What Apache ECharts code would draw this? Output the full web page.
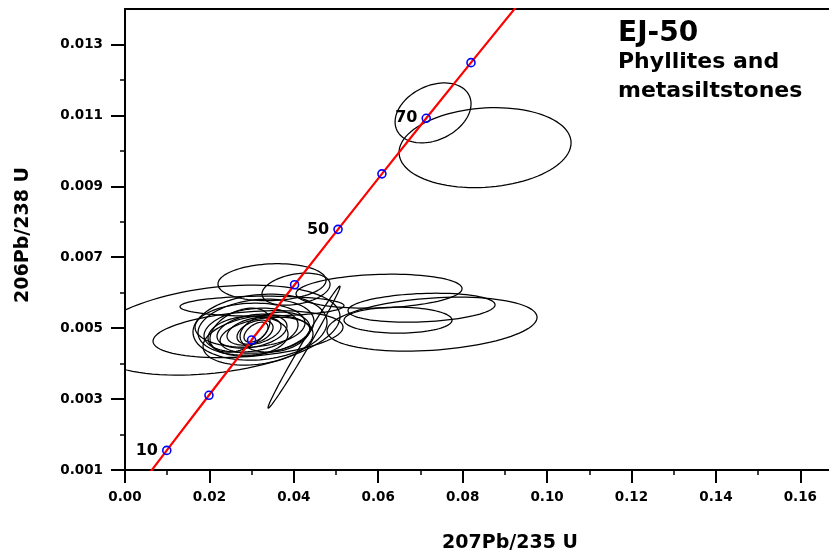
<!DOCTYPE html>
<html>
<head>
<meta charset="utf-8">
<title>EJ-50 concordia</title>
<script src="https://cdn.jsdelivr.net/npm/echarts@6/dist/echarts.min.js"></script>
<style>
  html, body { margin: 0; padding: 0; background: #fff; }
  #chart { width: 829px; height: 555px; }
</style>
</head>
<body>
<div id="chart"></div>
<script>
// Concordia reference ages (Ma) and their isotope ratios
const concordiaAge = [6, 10, 20, 30, 40, 50, 60, 70, 80, 90];
const concordiaX = [0.0059266, 0.0098972, 0.0198923, 0.0299863, 0.0401802, 0.0504751, 0.0608718, 0.0713714, 0.0819747, 0.0926834];
const concordiaY = [0.00093118, 0.00155245, 0.0031073, 0.0046646, 0.0062243, 0.0077864, 0.0093509, 0.0109179, 0.0124873, 0.0140592];
const markerAges = [10, 20, 30, 40, 50, 60, 70, 80];
const labelledAges = [10, 50, 70];

// Analyses: 207Pb/235U, 206Pb/238U, their uncertainties and error correlation
const ellX   = [0.02133, 0.02915, 0.03246, 0.03483, 0.04052, 0.04242, 0.06019, 0.07026, 0.06469, 0.07275, 0.07299, 0.08531,
                0.03104, 0.03081, 0.03057, 0.03009, 0.02986, 0.03104, 0.03199, 0.02915, 0.03318, 0.02725, 0.03555, 0.03152, 0.02962];
const ellY   = [0.004944, 0.004831, 0.00562, 0.006296, 0.0061, 0.004465, 0.006042, 0.005577, 0.005225, 0.005113, 0.01107, 0.01009,
                0.004887, 0.004887, 0.004915, 0.004915, 0.004944, 0.005028, 0.005028, 0.004775, 0.0048, 0.004944, 0.004887, 0.004662, 0.005085];
const ellSX  = [0.02962, 0.02251, 0.01943, 0.0128, 0.00806, 0.00853, 0.01967, 0.01742, 0.0128, 0.02488, 0.009, 0.02038,
                0.00284, 0.00427, 0.0064, 0.00829, 0.01114, 0.01374, 0.01588, 0.00948, 0.01066, 0.00711, 0.00829, 0.01303, 0.01303];
const ellSY  = [0.001268, 0.000662, 0.000282, 0.000521, 0.000451, 0.001718, 0.000479, 0.000408, 0.000366, 0.000761, 0.000845, 0.001127,
                0.000282, 0.000338, 0.000394, 0.000479, 0.00062, 0.000789, 0.00093, 0.000563, 0.000507, 0.00062, 0.000563, 0.000704, 0.00062];
const ellRho = [0.3, 0.3, 0.05, 0.1, 0.3, 0.993, 0.15, 0.2, 0.0, 0.25, 0.3, 0.12,
                0.5, 0.4, 0.35, 0.3, 0.25, 0.2, 0.15, 0.1, 0.3, 0.4, 0.2, 0.25, 0.1];

// Axis ticks
const xTicks = [0, 0.02, 0.04, 0.06, 0.08, 0.10, 0.12, 0.14, 0.16];
const xMinorTicks = [0.01, 0.03, 0.05, 0.07, 0.09, 0.11, 0.13, 0.15];
const yTicks = [0.001, 0.003, 0.005, 0.007, 0.009, 0.011, 0.013];
const yMinorTicks = [0.002, 0.004, 0.006, 0.008, 0.010, 0.012];

const X_MIN = 0, X_MAX = 0.1668, Y_MIN = 0.001, Y_MAX = 0.014;
const FONT = 'DejaVu Sans';

const lineData = concordiaX.map((x, i) => [x, concordiaY[i]]);
const markerData = markerAges.map(age => {
  const i = concordiaAge.indexOf(age);
  const show = labelledAges.indexOf(age) >= 0;
  return {
    value: [concordiaX[i], concordiaY[i]],
    label: { show: show, formatter: String(age) }
  };
});
const ellipseData = ellX.map((x, i) => [x, ellY[i], ellSX[i], ellSY[i], ellRho[i]]);

// Outline of one error ellipse, traced in data space and projected by the grid
function renderEllipse(params, api) {
  const cx = api.value(0), cy = api.value(1);
  const sx = api.value(2), sy = api.value(3), r = api.value(4);
  const k = Math.sqrt(1 - r * r);
  const pts = [];
  const n = 96;
  for (let j = 0; j < n; j++) {
    const t = j / n * Math.PI * 2;
    const c = Math.cos(t), s = Math.sin(t);
    pts.push(api.coord([cx + sx * c, cy + sy * (r * c + k * s)]));
  }
  return {
    type: 'polygon',
    shape: { points: pts },
    style: { fill: 'none', stroke: '#000', lineWidth: 1.25 }
  };
}

const baseX = { type: 'value', min: X_MIN, max: X_MAX, gridIndex: 0, splitLine: { show: false } };
const baseY = { type: 'value', min: Y_MIN, max: Y_MAX, gridIndex: 0, splitLine: { show: false } };

const option = {
  animation: false,
  backgroundColor: '#fff',
  grid: { left: 125, top: 9, right: 0, bottom: 85, containLabel: false },
  xAxis: [
    Object.assign({}, baseX, {
      position: 'bottom',
      interval: 0.02,
      axisLine: { show: true, onZero: false, lineStyle: { color: '#000', width: 2 } },
      axisTick: { show: true, customValues: xTicks, length: 13, lineStyle: { color: '#000', width: 2 } },
      axisLabel: {
        show: true, customValues: xTicks, margin: 20,
        formatter: v => v.toFixed(2),
        color: '#000', fontFamily: FONT, fontWeight: 'bold', fontSize: 13.5
      }
    }),
    Object.assign({}, baseX, {
      position: 'bottom',
      interval: 0.01,
      axisLine: { show: false, onZero: false },
      axisTick: { show: true, customValues: xMinorTicks, length: 5, lineStyle: { color: '#000', width: 1.5 } },
      axisLabel: { show: false }
    }),
    Object.assign({}, baseX, {
      position: 'top',
      interval: 0.02,
      axisLine: { show: true, onZero: false, lineStyle: { color: '#000', width: 2 } },
      axisTick: { show: false },
      axisLabel: { show: false }
    })
  ],
  yAxis: [
    Object.assign({}, baseY, {
      position: 'left',
      interval: 0.001,
      axisLine: { show: true, onZero: false, lineStyle: { color: '#000', width: 2 } },
      axisTick: { show: true, customValues: yTicks, length: 14, lineStyle: { color: '#000', width: 2 } },
      axisLabel: {
        show: true, customValues: yTicks, margin: 22,
        formatter: v => v.toFixed(3),
        color: '#000', fontFamily: FONT, fontWeight: 'bold', fontSize: 13.5
      }
    }),
    Object.assign({}, baseY, {
      position: 'left',
      interval: 0.001,
      axisLine: { show: false, onZero: false },
      axisTick: { show: true, customValues: yMinorTicks, length: 5, lineStyle: { color: '#000', width: 1.5 } },
      axisLabel: { show: false }
    })
  ],
  graphic: [
    { type: 'text', x: 618, y: 34, z: 100,
      style: { text: 'EJ-50', font: 'bold 28px "DejaVu Sans"', fill: '#000', textAlign: 'left', textVerticalAlign: 'middle' } },
    { type: 'text', x: 618, y: 62, z: 100,
      style: { text: 'Phyllites and', font: 'bold 22px "DejaVu Sans"', fill: '#000', textAlign: 'left', textVerticalAlign: 'middle' } },
    { type: 'text', x: 618, y: 91, z: 100,
      style: { text: 'metasiltstones', font: 'bold 22px "DejaVu Sans"', fill: '#000', textAlign: 'left', textVerticalAlign: 'middle' } },
    { type: 'text', x: 510, y: 543, z: 100,
      style: { text: '207Pb/235 U', font: 'bold 19px "DejaVu Sans"', fill: '#000', textAlign: 'center', textVerticalAlign: 'middle' } },
    { type: 'text', x: 23, y: 235, rotation: Math.PI / 2, z: 100,
      style: { text: '206Pb/238 U', font: 'bold 19px "DejaVu Sans"', fill: '#000', textAlign: 'center', textVerticalAlign: 'middle' } }
  ],
  series: [
    {
      name: 'analyses',
      type: 'custom',
      xAxisIndex: 0, yAxisIndex: 0,
      clip: true,
      z: 2,
      renderItem: renderEllipse,
      encode: { x: 0, y: 1 },
      data: ellipseData
    },
    {
      name: 'concordia',
      type: 'line',
      xAxisIndex: 0, yAxisIndex: 0,
      clip: true,
      z: 3,
      showSymbol: false,
      symbol: 'none',
      smooth: false,
      lineStyle: { color: '#ff0000', width: 2.2 },
      data: lineData
    },
    {
      name: 'ages',
      type: 'scatter',
      xAxisIndex: 0, yAxisIndex: 0,
      z: 4,
      symbol: 'circle',
      symbolSize: 8,
      itemStyle: { color: 'rgba(0,0,0,0)', borderColor: '#0000ff', borderWidth: 1.6, opacity: 1 },
      label: {
        position: 'left', distance: 4,
        color: '#000', fontFamily: FONT, fontWeight: 'bold', fontSize: 16
      },
      emphasis: { disabled: true },
      data: markerData
    }
  ]
};

const chart = echarts.init(document.getElementById('chart'), null, { renderer: 'canvas' });
chart.setOption(option);
</script>
</body>
</html>
